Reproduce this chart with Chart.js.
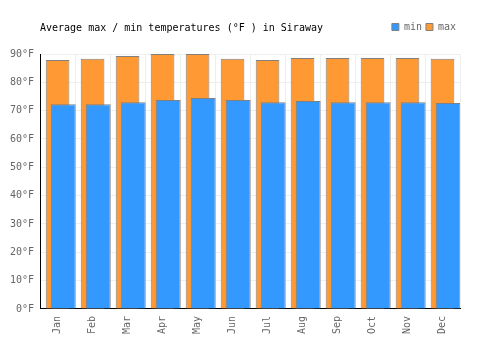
<!DOCTYPE html>
<html>
<head>
<meta charset="utf-8">
<script src="https://cdn.jsdelivr.net/npm/chart.js@4.4.7/dist/chart.umd.min.js"></script>
<style>
  html, body { margin: 0; padding: 0; background: #fff; }
  #wrap { position: relative; width: 500px; height: 350px; }
  #title {
    position: absolute; left: 40px; top: 22px;
    font: 10px "DejaVu Sans Mono", monospace; color: #000; white-space: pre;
  }
</style>
</head>
<body>
<div id="wrap">
  <canvas id="chart" width="500" height="350"></canvas>
  <div id="title">Average max / min temperatures (°F ) in Siraway</div>
</div>
<script>
const months = ["Jan", "Feb", "Mar", "Apr", "May", "Jun", "Jul", "Aug", "Sep", "Oct", "Nov", "Dec"];
const minTemps = [72.3, 72.3, 73.0, 73.8, 74.5, 73.8, 73.0, 73.4, 73.0, 73.0, 73.0, 72.7];
const maxTemps = [87.9, 88.3, 89.3, 90.0, 90.0, 88.3, 87.9, 88.6, 88.6, 88.6, 88.6, 88.3];
// empty slot so the min bar sits right of centre
const spacer = [null, null, null, null, null, null, null, null, null, null, null, null];
const yTickStep = 10;
const yMax = 90;

const mono = "'DejaVu Sans Mono', monospace";

// push the plot down a bit below the legend row
const legendGap = {
    id: "legendGap",
    beforeInit(chart) {
        const fit = chart.legend.fit;
        chart.legend.fit = function () {
            fit.call(this);
            this.height += 12;
        };
    },
};

new Chart(document.getElementById("chart"), {
    type: "bar",
    data: {
        labels: months,
        datasets: [
            { label: "", data: spacer, categoryPercentage: 0.646 },
            {
                label: "min",
                data: minTemps,
                backgroundColor: "#3399ff",
                borderColor: "#808080",
                borderWidth: 1,
                categoryPercentage: 0.646,
                barPercentage: 2.21,
            },
            {
                label: "max",
                data: maxTemps,
                backgroundColor: "#ff9933",
                borderColor: "#808080",
                borderWidth: 1,
                grouped: false,
                categoryPercentage: 1,
                barPercentage: 0.677,
            },
        ],
    },
    options: {
        responsive: false,
        animation: false,
        layout: { padding: { left: 4, right: 40, top: 18, bottom: 9 } },
        plugins: {
            legend: {
                position: "top",
                align: "end",
                labels: {
                    boxWidth: 7,
                    boxHeight: 7,
                    padding: 4,
                    color: "#666",
                    font: { family: mono, size: 10 },
                    filter: (item) => item.text !== "",
                },
            },
            tooltip: { enabled: false },
        },
        scales: {
            x: {
                grid: { color: "#eeeeee", drawTicks: false, offset: true },
                border: { color: "#000", width: 1 },
                ticks: {
                    minRotation: 90,
                    maxRotation: 90,
                    padding: 7,
                    color: "#666",
                    font: { family: mono, size: 10 },
                },
            },
            y: {
                min: 0,
                max: yMax,
                grid: { color: "#eeeeee", drawTicks: false },
                border: { color: "#000", width: 1 },
                ticks: {
                    stepSize: yTickStep,
                    padding: 6,
                    color: "#666",
                    font: { family: mono, size: 10 },
                    callback: (v) => v + "°F",
                },
            },
        },
    },
    plugins: [legendGap],
});
</script>
</body>
</html>
